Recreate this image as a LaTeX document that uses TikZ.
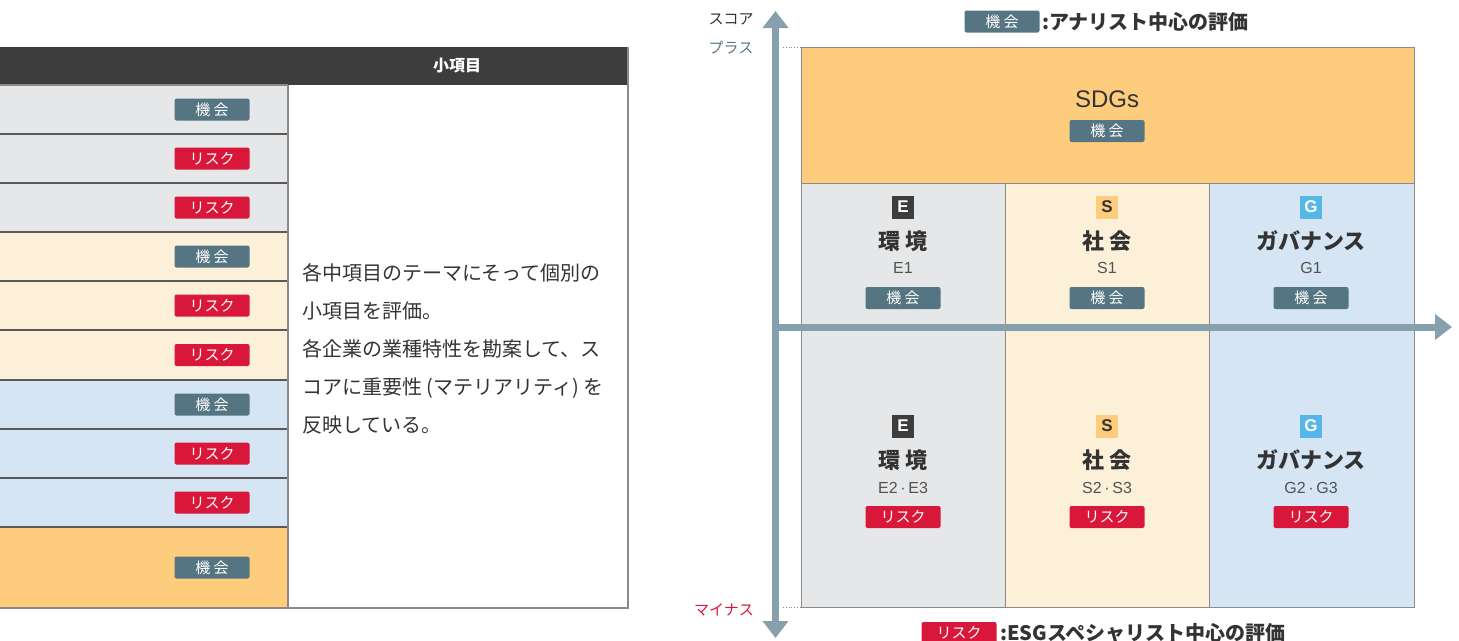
\documentclass[tikz,border=0pt]{standalone}
\usepackage{fontspec}
\setmainfont{Noto Sans CJK JP}
\newfontfamily\lat{Liberation Sans}
\usetikzlibrary{arrows.meta}
\definecolor{hdr}{HTML}{3D3D3D}
\definecolor{rowgray}{HTML}{E6E7E9}
\definecolor{rowcream}{HTML}{FDF0D9}
\definecolor{rowblue}{HTML}{D5E5F4}
\definecolor{roworange}{HTML}{FDCC7D}
\definecolor{kikai}{HTML}{557582}
\definecolor{risk}{HTML}{D8173A}
\definecolor{axis}{HTML}{87A0AD}
\definecolor{bord}{HTML}{8A8A8A}
\definecolor{sep}{HTML}{5A5A5A}
\definecolor{txt}{HTML}{333333}
\definecolor{gblue}{HTML}{56B6E8}
\definecolor{plus}{HTML}{57788A}
\tikzset{
  badge/.style={minimum width=75pt, minimum height=22pt, inner sep=0pt, rounded corners=2pt, text=white, font=\fontsize{15}{15}\selectfont},
  kbadge/.style={badge, fill=kikai},
  rbadge/.style={badge, fill=risk},
  letter/.style={minimum width=22pt, minimum height=23pt, inner sep=0pt, font=\lat\bfseries\fontsize{17}{17}\selectfont},
  cat/.style={text=txt, inner sep=0pt, font=\bfseries\fontsize{22}{22}\selectfont},
  code/.style={text=txt!85, inner sep=0pt, font=\lat\fontsize{16}{16}\selectfont},
  axisarrow/.style={draw=axis, line width=7pt, arrows={-Triangle[width=25pt,length=17pt]}},
  cell/.style={draw=bord, line width=1pt},
}
\begin{document}
\begin{tikzpicture}[x=1pt,y=-1pt]
\useasboundingbox (0,0) rectangle (1459,640);
% ---------- left table ----------
\fill[hdr] (0,47) rectangle (628,85);
\node[text=white, font=\bfseries\fontsize{16}{16}\selectfont] (hdrtxt) at (457,66) {小項目};
\fill[rowgray] (0,85) rectangle (288,232);
\fill[rowcream] (0,232) rectangle (288,380);
\fill[rowblue] (0,380) rectangle (288,527);
\fill[roworange] (0,527) rectangle (288,608);
\foreach \yy in {134,183,232,281,330,380,429,478,527}
  \draw[sep, line width=1.2pt] (0,\yy) -- (288,\yy);
\draw[bord, line width=1.2pt] (0,85) -- (288,85) (288,85) -- (288,608) (0,608) -- (628,608) -- (628,47);
\node[kbadge] (l1) at (212,109.5) {機 会};
\node[rbadge] (l2) at (212,158.5) {リスク};
\node[rbadge] (l3) at (212,207.5) {リスク};
\node[kbadge] (l4) at (212,256.5) {機 会};
\node[rbadge] (l5) at (212,305.5) {リスク};
\node[rbadge] (l6) at (212,355) {リスク};
\node[kbadge] (l7) at (212,404.5) {機 会};
\node[rbadge] (l8) at (212,453.5) {リスク};
\node[rbadge] (l9) at (212,502.5) {リスク};
\node[kbadge] (l10) at (212,567.5) {機 会};
\node[anchor=west, inner sep=0pt, text=txt, align=left, font=\fontsize{20}{38}\selectfont] (desc) at (302,349)
  {各中項目のテーマにそって個別の\\小項目を評価。\\各企業の業種特性を勘案して、ス\\コアに重要性 (マテリアリティ) を\\反映している。};
% ---------- right diagram ----------
\fill[roworange] (801,47) rectangle (1414,183);
\fill[rowgray] (801,183) rectangle (1005,607);
\fill[rowcream] (1005,183) rectangle (1209,607);
\fill[rowblue] (1209,183) rectangle (1414,607);
\draw[cell] (801,47) rectangle (1414,607);
\draw[cell] (801,183) -- (1414,183);
\draw[cell] (1005,183) -- (1005,607);
\draw[cell] (1209,183) -- (1209,607);
\node[text=txt, font=\lat\fontsize{24}{24}\selectfont] (sdgs) at (1107,99) {SDGs};
\node[kbadge] (sdgsb) at (1107,131) {機 会};
% upper cells
\node[letter, fill=hdr, text=white] (eu) at (903,207) {E};
\node[cat] (eut) at (903,241) {環 境};
\node[code] (euc) at (903,268) {E1};
\node[kbadge] (eub) at (903,298) {機 会};
\node[letter, fill=roworange, text=txt] (su) at (1107,207) {S};
\node[cat] (sut) at (1107,241) {社 会};
\node[code] (suc) at (1107,268) {S1};
\node[kbadge] (sub) at (1107,298) {機 会};
\node[letter, fill=gblue, text=white] (gu) at (1311,207) {G};
\node[cat] (gut) at (1311,241) {ガバナンス};
\node[code] (guc) at (1311,268) {G1};
\node[kbadge] (gub) at (1311,298) {機 会};
% lower cells
\node[letter, fill=hdr, text=white] (el) at (903,426) {E};
\node[cat] (elt) at (903,460) {環 境};
\node[code] (elc) at (903,488) {E2\,·\,E3};
\node[rbadge] (elb) at (903,517) {リスク};
\node[letter, fill=roworange, text=txt] (sl) at (1107,426) {S};
\node[cat] (slt) at (1107,460) {社 会};
\node[code] (slc) at (1107,488) {S2\,·\,S3};
\node[rbadge] (slb) at (1107,517) {リスク};
\node[letter, fill=gblue, text=white] (gl) at (1311,426) {G};
\node[cat] (glt) at (1311,460) {ガバナンス};
\node[code] (glc) at (1311,488) {G2\,·\,G3};
\node[rbadge] (glb) at (1311,517) {リスク};
% axes
\coordinate (vtop) at (775.5,11);
\coordinate (vbot) at (775.5,638);
\coordinate (vmid) at (775.5,327);
\coordinate (hend) at (1452,327);
\draw[axisarrow] (vmid) -- (vtop);
\draw[axisarrow] (vmid) -- (vbot);
\draw[axisarrow] (772,327) -- (hend);
\draw[bord, dotted, line width=0.8pt] (783,47) -- (801,47);
\draw[bord, dotted, line width=0.8pt] (783,607) -- (801,607);
\node[text=txt, font=\fontsize{15}{15}\selectfont] (score) at (731,19) {スコア};
\node[text=plus, font=\fontsize{15}{15}\selectfont] (plusl) at (731,48) {プラス};
\node[text=risk, font=\fontsize{15}{15}\selectfont] (minus) at (724,610) {マイナス};
% legends
\node[kbadge] (legk) at (1002,21.5) {機 会};
\node[anchor=west, inner sep=0pt, text=txt, font=\bfseries\fontsize{20}{20}\selectfont] (legkt) at (1042,21.5) {:アナリスト中心の評価};
\node[rbadge] (legr) at (959,633) {リスク};
\node[anchor=west, inner sep=0pt, text=txt, font=\bfseries\fontsize{20}{20}\selectfont] (legrt) at (1000,633) {:ESGスペシャリスト中心の評価};
\end{tikzpicture}
\end{document}
